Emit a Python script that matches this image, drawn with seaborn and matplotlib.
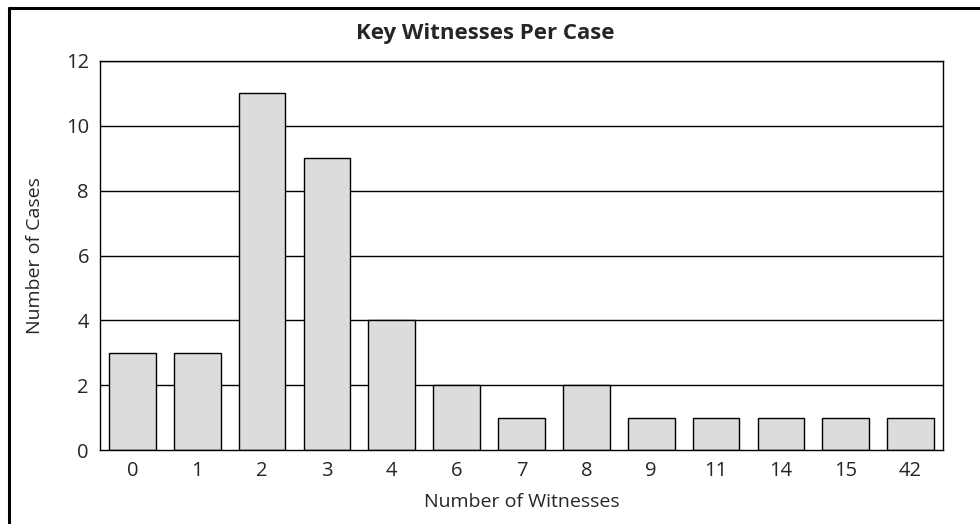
import matplotlib
matplotlib.use("Agg")
import matplotlib.pyplot as plt
import seaborn as sns
import pandas as pd
from matplotlib.lines import Line2D

# data
witnesses = ["0", "1", "2", "3", "4", "6", "7", "8", "9", "11", "14", "15", "42"]
cases = [3, 3, 11, 9, 4, 2, 1, 2, 1, 1, 1, 1, 1]
y_ticks = [0, 2, 4, 6, 8, 10, 12]

df = pd.DataFrame({"witnesses": witnesses, "cases": cases})

sns.set_style("white")
plt.rcParams["font.family"] = ["Open Sans", "DejaVu Sans"]

fig = plt.figure(figsize=(9.8, 5.24), dpi=100)
ax = fig.add_axes([100 / 980, 1 - 450 / 524, 843 / 980, 389 / 524])

for t in y_ticks[1:]:
    ax.axhline(t, color="black", lw=1, zorder=0)

sns.barplot(data=df, x="witnesses", y="cases", order=witnesses, color="#dcdcdc",
            edgecolor="black", linewidth=1, width=0.72, saturation=1, ax=ax, zorder=2)

ax.set_ylim(0, 12)
ax.set_xlim(-0.5, len(witnesses) - 0.5)
ax.set_yticks(y_ticks)
ax.tick_params(axis="both", length=0, labelsize=14.5, pad=8)
for s in ax.spines.values():
    s.set_color("black")
    s.set_linewidth(1)

ax.set_xlabel("Number of Witnesses", fontsize=14, labelpad=8.5)
ax.set_ylabel("Number of Cases", fontsize=14, labelpad=15.5)

fig.text(485 / 980, 1 - 33 / 524, "Key Witnesses Per Case", ha="center", va="center",
         fontsize=16, fontweight="bold")

# outer frame (open at right and bottom, as cropped in the source)
fig.add_artist(Line2D([9 / 980, 9 / 980], [0, 1 - 8 / 524], color="black", lw=2.2,
                      transform=fig.transFigure))
fig.add_artist(Line2D([9 / 980, 1], [1 - 8 / 524, 1 - 8 / 524], color="black", lw=2.2,
                      transform=fig.transFigure))

fig.savefig("out.png", dpi=100)
